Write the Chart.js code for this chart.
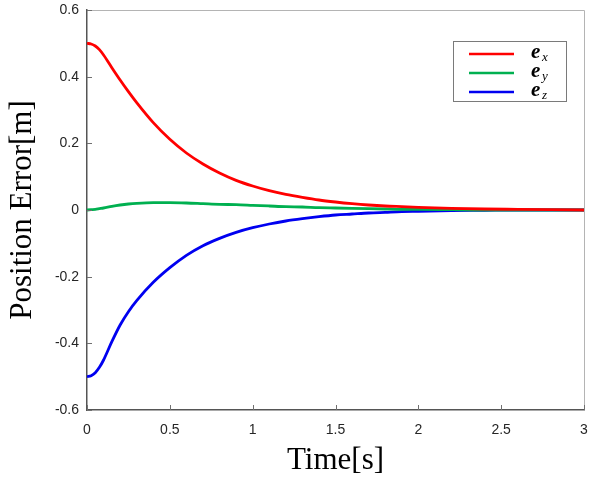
<!DOCTYPE html>
<html>
<head>
<meta charset="utf-8">
<script src="https://cdn.jsdelivr.net/npm/chart.js@4/dist/chart.umd.min.js"></script>
<style>
  html, body { margin: 0; padding: 0; background: #fff; }
  #wrap { width: 594px; height: 481px; }
</style>
</head>
<body>
<div id="wrap"><canvas id="errChart" width="594" height="481"></canvas></div>
<script>
// ==========================================
// DATA
// ==========================================
const timeSec = [0, 0.025, 0.05, 0.075, 0.1, 0.15, 0.2, 0.25, 0.3, 0.4, 0.5, 0.6, 0.7, 0.8, 0.9, 1.0,
                 1.1, 1.2, 1.3, 1.4, 1.5, 1.6, 1.7, 1.8, 1.9, 2.0, 2.2, 2.4, 2.6, 2.8, 3.0];
const errX = [0.500, 0.498, 0.492, 0.481, 0.465, 0.427, 0.390, 0.355, 0.322, 0.262, 0.212, 0.171, 0.138, 0.111, 0.089, 0.072,
              0.058, 0.047, 0.038, 0.030, 0.024, 0.019, 0.015, 0.012, 0.010, 0.008, 0.005, 0.003, 0.002, 0.001, 0.000];
const errY = [0.000, 0.001, 0.002, 0.004, 0.006, 0.011, 0.015, 0.018, 0.020, 0.022, 0.022, 0.021, 0.019, 0.017, 0.016, 0.014,
              0.012, 0.010, 0.009, 0.007, 0.006, 0.005, 0.004, 0.003, 0.002, 0.002, 0.001, 0.000, 0.000, 0.000, 0.000];
const errZ = [-0.500, -0.497, -0.488, -0.472, -0.450, -0.395, -0.345, -0.305, -0.272, -0.217, -0.173, -0.136, -0.107, -0.085, -0.067, -0.053,
              -0.042, -0.033, -0.026, -0.020, -0.015, -0.012, -0.009, -0.007, -0.005, -0.004, -0.002, -0.001, 0.000, 0.000, 0.000];

const xTicks = [0, 0.5, 1, 1.5, 2, 2.5, 3];
const xTickLabels = ['0', '0.5', '1', '1.5', '2', '2.5', '3'];
const yTicks = [-0.6, -0.4, -0.2, 0, 0.2, 0.4, 0.6];
const yTickLabels = ['-0.6', '-0.4', '-0.2', '0', '0.2', '0.4', '0.6'];

const seriesNames = ['x', 'y', 'z'];   // subscripts of e
const seriesColors = ['#ff0000', '#00b050', '#0000f0'];

// ==========================================
// PLUGINS
// ==========================================

// inward tick marks + light top/right box
const boxTicks = {
    id: 'boxTicks',
    afterDatasetsDraw(chart) {
        const { ctx, chartArea: a, scales } = chart;
        ctx.save();
        ctx.strokeStyle = '#b4b4b4';
        ctx.lineWidth = 1;
        ctx.beginPath();
        ctx.moveTo(a.left, a.top + 0.5);
        ctx.lineTo(a.right + 0.5, a.top + 0.5);
        ctx.lineTo(a.right + 0.5, a.bottom);
        ctx.stroke();

        ctx.strokeStyle = '#707070';
        ctx.beginPath();
        xTicks.forEach(v => {
            const px = Math.round(scales.x.getPixelForValue(v)) + 0.5;
            ctx.moveTo(px, a.bottom);
            ctx.lineTo(px, a.bottom - 5);
        });
        yTicks.forEach(v => {
            const py = Math.round(scales.y.getPixelForValue(v)) + 0.5;
            ctx.moveTo(a.left, py);
            ctx.lineTo(a.left + 5, py);
        });
        ctx.stroke();
        ctx.restore();
    }
};

// legend drawn by hand so the e_x label gets a subscript
const mathLegend = {
    id: 'mathLegend',
    afterDraw(chart) {
        const { ctx } = chart;
        const bx = 453.5, by = 41.5, bw = 113, bh = 60;
        ctx.save();
        ctx.fillStyle = '#ffffff';
        ctx.fillRect(bx, by, bw, bh);
        ctx.strokeStyle = '#7a7a7a';
        ctx.lineWidth = 1;
        ctx.strokeRect(bx, by, bw, bh);
        seriesNames.forEach((s, i) => {
            const y = 54 + i * 19;
            ctx.strokeStyle = seriesColors[i];
            ctx.lineWidth = 2.5;
            ctx.beginPath();
            ctx.moveTo(469, y);
            ctx.lineTo(514, y);
            ctx.stroke();
            ctx.fillStyle = '#000';
            ctx.textBaseline = 'alphabetic';
            ctx.font = 'bold italic 21px "Liberation Serif"';
            ctx.fillText('e', 531, y + 4);
            ctx.font = 'italic 13px "Liberation Serif"';
            ctx.fillText(s, 542, y + 7);
        });
        ctx.restore();
    }
};

// ==========================================
// CHART
// ==========================================
function initErrorChart() {
    const ctx = document.getElementById('errChart');
    const series = [errX, errY, errZ];

    new Chart(ctx, {
        type: 'line',
        data: {
            datasets: series.map((vals, i) => ({
                label: 'e_' + seriesNames[i],
                data: timeSec.map((t, k) => ({ x: t, y: vals[k] })),
                borderColor: seriesColors[i],
                borderWidth: 2.8,
                pointRadius: 0,
                fill: false,
                cubicInterpolationMode: 'monotone'
            }))
        },
        options: {
            responsive: false,
            animation: false,
            layout: { padding: { top: 10, right: 10, left: 0, bottom: 0 } },
            plugins: {
                legend: { display: false },
                tooltip: { enabled: false }
            },
            scales: {
                x: {
                    type: 'linear',
                    min: 0,
                    max: 3,
                    afterFit: s => { s.height = 71; s.paddingLeft = 0; s.paddingRight = 0; },
                    afterBuildTicks: s => { s.ticks = xTicks.map(v => ({ value: v })); },
                    grid: { display: true, drawOnChartArea: false, drawTicks: false },
                    border: { color: '#555555', width: 1.5 },
                    ticks: {
                        padding: 12,
                        color: '#262626',
                        font: { family: '"Liberation Sans", Arial', size: 14 },
                        callback: (v, i) => xTickLabels[i]
                    },
                    title: {
                        display: true,
                        text: 'Time[s]',
                        color: '#000',
                        font: { family: '"Liberation Serif"', size: 31 },
                        padding: { top: 0, bottom: 2 }
                    }
                },
                y: {
                    min: -0.6,
                    max: 0.6,
                    afterFit: s => { s.width = 87; s.paddingTop = 0; s.paddingBottom = 0; },
                    afterBuildTicks: s => { s.ticks = yTicks.map(v => ({ value: v })); },
                    grid: { display: true, drawOnChartArea: false, drawTicks: false },
                    border: { color: '#555555', width: 1.5 },
                    ticks: {
                        padding: 8,
                        color: '#262626',
                        font: { family: '"Liberation Sans", Arial', size: 14 },
                        callback: (v, i) => yTickLabels[i]
                    },
                    title: {
                        display: true,
                        text: 'Position Error[m]',
                        color: '#000',
                        font: { family: '"Liberation Serif"', size: 31 },
                        padding: { top: 4, bottom: 0 }
                    }
                }
            }
        },
        plugins: [boxTicks, mathLegend]
    });
}

document.addEventListener('DOMContentLoaded', initErrorChart);
</script>
</body>
</html>
